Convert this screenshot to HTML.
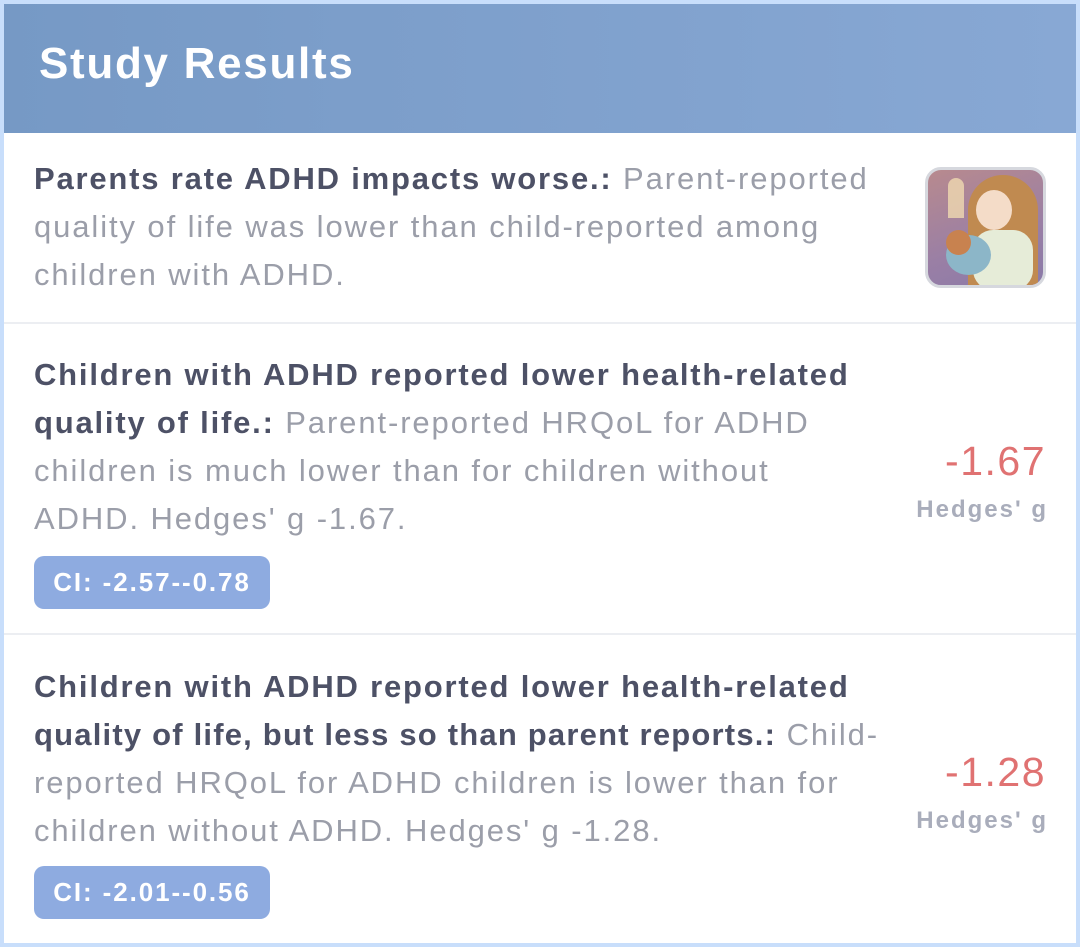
<!DOCTYPE html>
<html><head><meta charset="utf-8"><style>
*{margin:0;padding:0;box-sizing:border-box}
html,body{width:1080px;height:947px;overflow:hidden;background:#c8defb}
.card{position:absolute;left:4px;top:4px;width:1072px;height:939px;background:#fff;overflow:hidden}
.hdr{position:absolute;left:0;top:0;width:1072px;height:129px;background:linear-gradient(90deg,#7699c5,#88a8d4)}
.hdr span{position:absolute;left:35px;top:35px;font:bold 44px "Liberation Sans",sans-serif;color:#fff;letter-spacing:1.7px}
.t{position:absolute;left:30px;font:31px/48px "Liberation Sans",sans-serif;color:#9b9ea9;white-space:nowrap;letter-spacing:1.9px}
.t b{color:#4d5166;letter-spacing:1.8px}
.t b.n{letter-spacing:1.2px}
.div{position:absolute;left:0;width:1072px;height:2px;background:#eceef2}
.badge{position:absolute;left:30px;width:236px;height:53px;border-radius:10px;background:#8eabe0;color:#fff;font:bold 26px/53px "Liberation Sans",sans-serif;text-align:center;letter-spacing:1.9px}
.val{position:absolute;right:30px;font:41px "Liberation Sans",sans-serif;color:#e07272;text-align:right;letter-spacing:1.5px}
.hg{position:absolute;right:28px;font:bold 24px "Liberation Sans",sans-serif;color:#a9adbb;text-align:right;letter-spacing:2px}
.img{position:absolute;left:921px;top:163px;width:121px;height:121px;border-radius:16px;border:3px solid #d6d8de;background:linear-gradient(160deg,#b88a8e,#9a7fa5 60%,#8a7aa8);overflow:hidden}
</style></head><body>
<div class="card">
<div class="hdr"><span>Study Results</span></div>
<div class="t" style="top:151px"><b>Parents rate ADHD impacts worse.:</b> Parent-reported<br>quality of life was lower than child-reported among<br>children with ADHD.</div>
<div class="img">
<div style="position:absolute;left:20px;top:8px;width:16px;height:40px;border-radius:8px 8px 0 0;background:#f0d9b0;opacity:.8"></div>
<div style="position:absolute;left:80px;top:8px;width:14px;height:40px;border-radius:8px 8px 0 0;background:#f0d9b0;opacity:.7"></div>
<div style="position:absolute;left:40px;top:5px;width:70px;height:115px;border-radius:35px 35px 0 0;background:#c08a50"></div>
<div style="position:absolute;left:48px;top:20px;width:36px;height:40px;border-radius:50%;background:#f4dcc8"></div>
<div style="position:absolute;left:45px;top:60px;width:60px;height:60px;border-radius:20px;background:#e6ecd8"></div>
<div style="position:absolute;left:18px;top:65px;width:45px;height:40px;border-radius:50%;background:#8cb6c8"></div>
<div style="position:absolute;left:18px;top:60px;width:25px;height:25px;border-radius:50%;background:#c8824f"></div>
</div>
<div class="div" style="top:318px"></div>
<div class="t" style="top:347px"><b>Children with ADHD reported lower health-related<br>quality of life.:</b> Parent-reported HRQoL for ADHD<br>children is much lower than for children without<br>ADHD. Hedges' g -1.67.</div>
<div class="val" style="top:434px">-1.67</div>
<div class="hg" style="top:492px">Hedges' g</div>
<div class="badge" style="top:552px">CI: -2.57--0.78</div>
<div class="div" style="top:629px"></div>
<div class="t" style="top:659px"><b>Children with ADHD reported lower health-related</b><br><b class="n">quality of life, but less so than parent reports.:</b> Child-<br>reported HRQoL for ADHD children is lower than for<br>children without ADHD. Hedges' g -1.28.</div>
<div class="val" style="top:745px">-1.28</div>
<div class="hg" style="top:803px">Hedges' g</div>
<div class="badge" style="top:862px">CI: -2.01--0.56</div>
</div>
</body></html>
